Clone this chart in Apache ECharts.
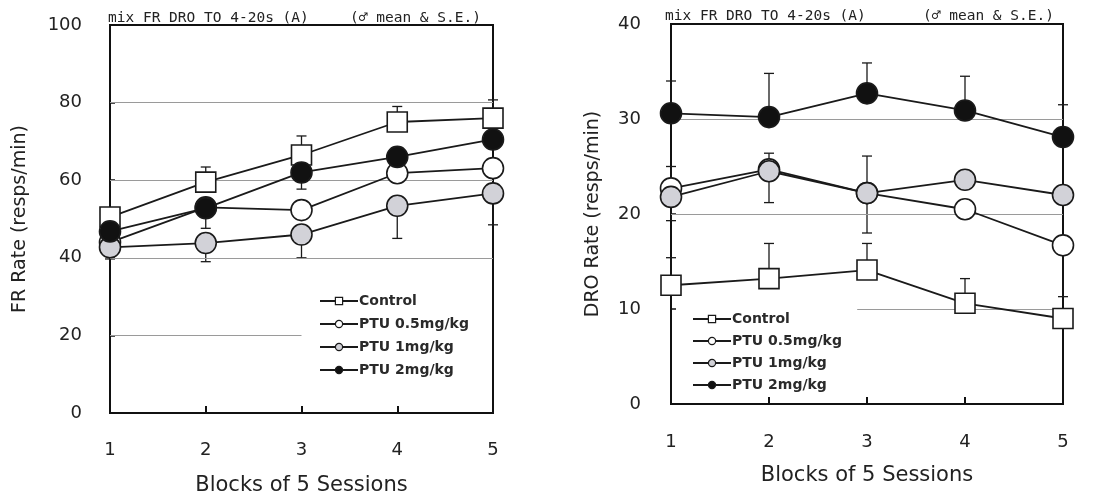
<!DOCTYPE html>
<html>
<head>
<meta charset="utf-8">
<script src="https://cdn.jsdelivr.net/npm/echarts@6/dist/echarts.min.js"></script>
<style>html,body{margin:0;padding:0;background:#fff;}#c{width:1103px;height:497px;}</style>
</head>
<body>
<div id="c"></div>
<script>
// ---------- data ----------
const blocks = [1, 2, 3, 4, 5];
const seriesNames = ['Control', 'PTU 0.5mg/kg', 'PTU 1mg/kg', 'PTU 2mg/kg'];

// FR Rate (left panel)
const frControl = [50.5, 59.5, 66.5, 75.0, 76.0];
const frPtu05   = [44.0, 53.0, 52.3, 61.8, 63.1];
const frPtu1    = [42.7, 43.8, 46.0, 53.4, 56.6];
const frPtu2    = [46.8, 52.8, 62.0, 66.0, 70.5];
const frControlSeUp = [0, 3.9, 4.9, 4.0, 4.7];
const frPtu05SeDown = [0, 0, 0, 0, 0];
const frPtu1SeDown  = [3.0, 4.8, 6.0, 8.4, 8.1];
const frPtu2SeDown  = [0, 5.2, 4.3, 0, 0];

// DRO Rate (right panel)
const droControl = [12.5, 13.2, 14.1, 10.6, 9.0];
const droPtu05   = [22.7, 24.7, 22.2, 20.5, 16.7];
const droPtu1    = [21.8, 24.5, 22.2, 23.6, 22.0];
const droPtu2    = [30.6, 30.2, 32.7, 30.9, 28.1];
const droControlSeUp = [2.9, 3.7, 2.8, 2.6, 0];
const droPtu05SeDown = [0, 0, 4.2, 0, 5.4];
const droPtu1SeUp    = [3.2, 1.9, 3.9, 0, 0];
const droPtu1SeDown  = [2.5, 3.3, 0, 0, 0];
const droPtu2SeUp    = [3.4, 4.6, 3.2, 3.6, 3.4];

// reference lines [value, fromBlock, toBlock]
const frRefLines = [[20, 1, 3], [40, 1, 5], [60, 1, 5], [80, 1, 5]];
const droRefLines = [[10, 2.9, 5], [20, 1, 5], [30, 1, 5]];

// ---------- styles ----------
const markerStyles = [
  {symbol: 'rect', size: 20, color: '#ffffff'},
  {symbol: 'circle', size: 21, color: '#ffffff'},
  {symbol: 'circle', size: 21, color: '#d2d2d8'},
  {symbol: 'circle', size: 21, color: '#111111'}
];
const G = 'DejaVu Sans, sans-serif';
const M = 'DejaVu Sans Mono, monospace';

function lineSeries(idx, data, gi, refLines) {
  const m = markerStyles[idx];
  const s = {
    name: seriesNames[idx], type: 'line',
    xAxisIndex: gi, yAxisIndex: gi,
    data: blocks.map((b, i) => [b, data[i]]),
    symbol: m.symbol, symbolSize: m.size, showSymbol: true,
    clip: false, z: 5 + idx,
    lineStyle: {color: '#1a1a1a', width: 1.8},
    itemStyle: {color: m.color, borderColor: '#1a1a1a', borderWidth: 1.6},
    emphasis: {disabled: true}
  };
  if (refLines) {
    s.markLine = {
      silent: true, symbol: 'none', label: {show: false},
      lineStyle: {color: '#9a9a9a', width: 1, type: 'solid'},
      data: refLines.map(r => [{coord: [r[1], r[0]]}, {coord: [r[2], r[0]]}])
    };
  }
  return s;
}

function errSeries(gi, mean, up, down) {
  const d = [];
  blocks.forEach((b, i) => {
    if (up && up[i]) d.push([b, mean[i], mean[i] + up[i]]);
    if (down && down[i]) d.push([b, mean[i], mean[i] - down[i]]);
  });
  return {
    type: 'custom', xAxisIndex: gi, yAxisIndex: gi, z: 3, silent: true, clip: false,
    data: d,
    renderItem: function (params, api) {
      const p0 = api.coord([api.value(0), api.value(1)]);
      const p1 = api.coord([api.value(0), api.value(2)]);
      const st = {stroke: '#1a1a1a', lineWidth: 1.3};
      return {type: 'group', children: [
        {type: 'line', shape: {x1: p0[0], y1: p0[1], x2: p1[0], y2: p1[1]}, style: st},
        {type: 'line', shape: {x1: p1[0] - 5, y1: p1[1], x2: p1[0] + 5, y2: p1[1]}, style: st}
      ]};
    }
  };
}

function xAxis(gi, margin, nameGap) {
  return {
    gridIndex: gi, type: 'value', min: 1, max: 5, interval: 1,
    name: 'Blocks of 5 Sessions', nameLocation: 'middle', nameGap: nameGap,
    nameTextStyle: {fontFamily: G, fontSize: 21, color: '#222'},
    axisLine: {lineStyle: {color: '#111', width: 2}},
    axisTick: {inside: true, length: 7, lineStyle: {color: '#111', width: 2}},
    axisLabel: {fontFamily: G, fontSize: 18, color: '#222', margin: margin},
    splitLine: {show: false}
  };
}
function yAxis(gi, max, interval, name, margin, nameGap) {
  return {
    gridIndex: gi, type: 'value', min: 0, max: max, interval: interval,
    name: name, nameLocation: 'middle', nameGap: nameGap,
    nameTextStyle: {fontFamily: G, fontSize: 19, color: '#222'},
    axisLine: {lineStyle: {color: '#111', width: 2}},
    axisTick: {inside: true, length: 5, lineStyle: {color: '#111', width: 1.5}},
    axisLabel: {fontFamily: G, fontSize: 18, color: '#222', margin: margin},
    splitLine: {show: false}
  };
}

const titleStyle = {fontFamily: M, fontSize: 14.5, fontWeight: 'normal', color: '#222'};
function legendAt(left, top, gap) {
  return {
    left: left, top: top,
    orient: 'vertical', itemWidth: 38, itemHeight: 9, itemGap: gap,
    textStyle: {fontFamily: G, fontSize: 14, fontWeight: 'bold', color: '#2a2a2a', padding: [0, 0, 0, -4]},
    data: seriesNames, selectedMode: false,
    itemStyle: {borderWidth: 1.2}
  };
}

const option = {
  backgroundColor: '#ffffff',
  animation: false,
  title: [
    {text: 'mix FR DRO TO 4-20s (A)', left: 103, top: 6, textStyle: titleStyle},
    {text: '(\u2642 mean & S.E.)', left: 345, top: 6, textStyle: titleStyle},
    {text: 'mix FR DRO TO 4-20s (A)', left: 660, top: 4, textStyle: titleStyle},
    {text: '(\u2642 mean & S.E.)', left: 918, top: 4, textStyle: titleStyle}
  ],
  grid: [
    {left: 110, top: 25, width: 383, height: 388, outerBoundsMode: 'none', containLabel: false, show: true, borderColor: '#111', borderWidth: 2, backgroundColor: 'transparent'},
    {left: 671, top: 24, width: 392, height: 380, outerBoundsMode: 'none', containLabel: false, show: true, borderColor: '#111', borderWidth: 2, backgroundColor: 'transparent'}
  ],
  xAxis: [xAxis(0, 28, 62), xAxis(1, 29, 61)],
  yAxis: [
    yAxis(0, 100, 20, 'FR Rate (resps/min)', 28, 80),
    yAxis(1, 40, 10, 'DRO Rate (resps/min)', 30, 68)
  ],
  legend: [legendAt(314, 289, 9), legendAt(687, 307, 8)],
  series: [
    errSeries(0, frControl, frControlSeUp, null),
    errSeries(0, frPtu05, null, frPtu05SeDown),
    errSeries(0, frPtu1, null, frPtu1SeDown),
    errSeries(0, frPtu2, null, frPtu2SeDown),
    lineSeries(0, frControl, 0, frRefLines),
    lineSeries(1, frPtu05, 0),
    lineSeries(2, frPtu1, 0),
    lineSeries(3, frPtu2, 0),
    errSeries(1, droControl, droControlSeUp, null),
    errSeries(1, droPtu05, null, droPtu05SeDown),
    errSeries(1, droPtu1, droPtu1SeUp, droPtu1SeDown),
    errSeries(1, droPtu2, droPtu2SeUp, null),
    lineSeries(0, droControl, 1, droRefLines),
    lineSeries(1, droPtu05, 1),
    lineSeries(2, droPtu1, 1),
    lineSeries(3, droPtu2, 1)
  ]
};
const chart = echarts.init(document.getElementById('c'), null, {renderer: 'canvas'});
chart.setOption(option);
</script>
</body>
</html>
